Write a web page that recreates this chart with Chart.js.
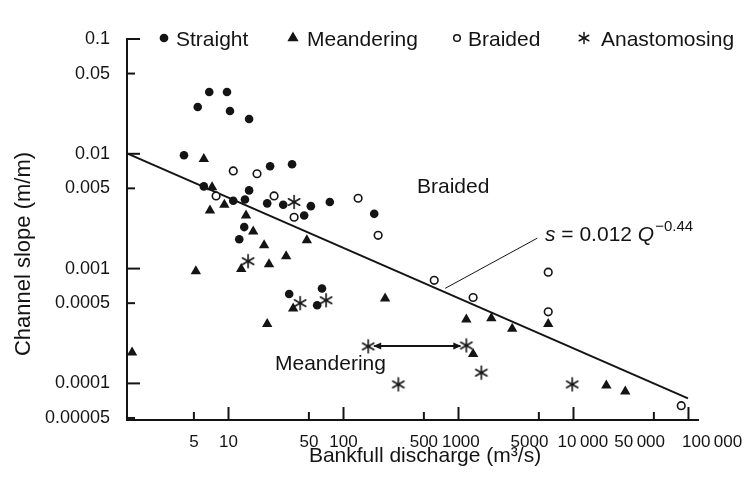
<!DOCTYPE html>
<html>
<head>
<meta charset="utf-8">
<script src="https://cdn.jsdelivr.net/npm/chart.js@4.4.1/dist/chart.umd.min.js"></script>
<style>
    html, body { margin: 0; padding: 0; background: #fff; }
    #wrap { width: 747px; height: 481px; }
</style>
</head>
<body>
<div id="wrap"><canvas id="slopeChart" width="747" height="481"></canvas></div>
<script>
// Bankfull discharge Q (m3/s) and channel slope s (m/m)
const straightQ = [6.8, 9.7, 5.4, 10.3, 15.1, 4.1, 23, 35.7, 6.1, 15.1, 11, 13.9, 21.7, 29.9, 52, 76, 45.5, 185, 13.7, 12.4, 33.7, 65, 59];
const straightS = [0.0345, 0.0345, 0.0256, 0.0236, 0.0201, 0.0097, 0.0078, 0.0081, 0.0052, 0.0048, 0.0039, 0.004, 0.0037, 0.0036, 0.0035, 0.0038, 0.0029, 0.003, 0.0023, 0.0018, 0.0006, 0.00067, 0.00048];

const meanderingQ = [1.45, 5.2, 6.1, 7.2, 6.9, 9.2, 14.2, 16.4, 20.4, 12.9, 22.5, 31.7, 48, 36.5, 21.7, 230, 1170, 1930, 2930, 6030, 1340, 19300, 28200];
const meanderingS = [0.000186, 0.00095, 0.009, 0.0051, 0.0032, 0.0036, 0.0029, 0.0021, 0.0016, 0.00099, 0.00109, 0.00128, 0.00177, 0.00045, 0.00033, 0.00055, 0.00036, 0.00037, 0.0003, 0.00033, 0.00018, 0.000096, 0.000085];

const braidedQ = [7.8, 11, 17.7, 24.9, 37.2, 134, 200, 615, 1340, 6030, 6030, 86500];
const braidedS = [0.0043, 0.0071, 0.0067, 0.0043, 0.0028, 0.0041, 0.00195, 0.00079, 0.00056, 0.00093, 0.00042, 0.000064];

const anastoQ = [37.2, 14.8, 42, 70.6, 164, 1170, 1580, 300, 9750];
const anastoS = [0.0038, 0.00116, 0.0005, 0.00053, 0.00021, 0.000214, 0.000124, 0.000098, 0.000098];

// regression line s = 0.012 Q^-0.44, end points as drawn
const fitQ = [1.31, 99000];
const fitS = [0.0101, 0.000074];
// leader from the equation label to the line
const leaderQ = [766, 4840];
const leaderS = [0.000673, 0.00184];

const xTickValues = [5, 10, 50, 100, 500, 1000, 5000, 10000, 50000, 100000];
// the crowded labels on the right are set off their ticks in the original, padded here with spaces
const xTickLabels = ['5', '10', '50', '100', '500', ' 1000', '5000    ', '    10\u2009000', '50\u2009000      ', '          100\u2009000'];
const yTickValues = [0.1, 0.05, 0.01, 0.005, 0.001, 0.0005, 0.0001, 0.00005];
const yTickLabels = ['0.1', '0.05', '0.01', '0.005', '0.001', '0.0005', '0.0001', '0.00005'];

const ink = '#141414';
const FONT = '"Liberation Sans", Arial, Helvetica, sans-serif';

Chart.defaults.font.family = FONT;
Chart.defaults.color = ink;

// six-armed asterisk used for the anastomosing points
function makeAsterisk(size, arm, width) {
    const c = document.createElement('canvas');
    c.width = size;
    c.height = size;
    const g = c.getContext('2d');
    g.strokeStyle = ink;
    g.lineWidth = width;
    g.lineCap = 'round';
    const m = size / 2;
    [90, 30, 150].forEach(deg => {
        const r = deg * Math.PI / 180;
        g.beginPath();
        g.moveTo(m - Math.cos(r) * arm, m - Math.sin(r) * arm);
        g.lineTo(m + Math.cos(r) * arm, m + Math.sin(r) * arm);
        g.stroke();
    });
    return c;
}
const asterisk = makeAsterisk(16, 6.5, 1.6);
const asteriskSmall = makeAsterisk(14, 5.5, 1.5);

const toPoints = (qs, ss) => qs.map((q, i) => ({ x: q, y: ss[i] }));
const isDecade = v => Math.abs(Math.log10(v) - Math.round(Math.log10(v))) < 1e-6;

function line(ctx, x1, y1, x2, y2) {
    ctx.beginPath();
    ctx.moveTo(x1, y1);
    ctx.lineTo(x2, y2);
    ctx.stroke();
}

function arrowHead(ctx, tipX, tipY, dir) {
    ctx.beginPath();
    ctx.moveTo(tipX, tipY);
    ctx.lineTo(tipX - dir * 8, tipY - 3.5);
    ctx.lineTo(tipX - dir * 8, tipY + 3.5);
    ctx.closePath();
    ctx.fill();
}

// inward ticks, arrow, text labels, legend and axis titles
const extras = {
    id: 'extras',
    afterDraw(chart) {
        const { ctx, scales: { x, y } } = chart;
        ctx.save();
        ctx.strokeStyle = ink;
        ctx.fillStyle = ink;

        // tick marks point into the plot
        ctx.lineWidth = 2;
        xTickValues.forEach(v => {
            const px = x.getPixelForValue(v);
            line(ctx, px, y.bottom, px, y.bottom - (isDecade(v) ? 13 : 8));
        });
        yTickValues.forEach(v => {
            const py = y.getPixelForValue(v);
            line(ctx, x.left, py, x.left + (isDecade(v) ? 13 : 8), py);
        });

        // range arrow between the two anastomosing points
        const a = chart.data.datasets[3].data;
        const ax = x.getPixelForValue(a[4].x), ay = y.getPixelForValue(a[4].y);
        const bx = x.getPixelForValue(a[5].x), by = y.getPixelForValue(a[5].y);
        const my = (ay + by) / 2;
        ctx.lineWidth = 2;
        line(ctx, ax + 6, my, bx - 6, my);
        arrowHead(ctx, ax + 5, my, -1);
        arrowHead(ctx, bx - 5, my, 1);

        // region labels
        ctx.textAlign = 'left';
        ctx.textBaseline = 'alphabetic';
        ctx.font = '21px ' + FONT;
        ctx.fillText('Braided', 417, 193);
        ctx.fillText('Meandering', 275, 370);

        // equation
        let ex = 545;
        const ey = 241;
        ctx.font = 'italic 21px ' + FONT;
        ctx.fillText('s', ex, ey);
        ex += ctx.measureText('s').width;
        ctx.font = '21px ' + FONT;
        ctx.fillText(' = 0.012 ', ex, ey);
        ex += ctx.measureText(' = 0.012 ').width;
        ctx.font = 'italic 21px ' + FONT;
        ctx.fillText('Q', ex, ey);
        ex += ctx.measureText('Q').width + 1;
        ctx.font = '15px ' + FONT;
        ctx.fillText('\u22120.44', ex, ey - 10);

        // legend
        const legend = [
            { label: 'Straight', sx: 164, tx: 176, style: 'circle', r: 3.6, fill: true },
            { label: 'Meandering', sx: 293, tx: 307, style: 'triangle', r: 5, fill: true },
            { label: 'Braided', sx: 457, tx: 468, style: 'circle', r: 3.3, fill: false },
            { label: 'Anastomosing', sx: 584, tx: 601, style: asteriskSmall, r: 6, fill: false }
        ];
        ctx.font = '21px ' + FONT;
        legend.forEach(item => {
            ctx.lineWidth = 1.5;
            ctx.fillStyle = item.fill ? ink : '#fff';
            Chart.helpers.drawPoint(ctx, { pointStyle: item.style, radius: item.r, borderWidth: 1.5, rotation: 0 }, item.sx, 38);
            ctx.fillStyle = ink;
            ctx.fillText(item.label, item.tx, 46);
        });

        // axis titles
        ctx.font = '21px ' + FONT;
        ctx.textAlign = 'center';
        ctx.fillText('Bankfull discharge (m\u00b3/s)', 425, 462);
        ctx.save();
        ctx.translate(30, 254);
        ctx.rotate(-Math.PI / 2);
        ctx.font = '22px ' + FONT;
        ctx.fillText('Channel slope (m/m)', 0, 0);
        ctx.restore();

        ctx.restore();
    }
};

new Chart(document.getElementById('slopeChart').getContext('2d'), {
    type: 'scatter',
    data: {
        datasets: [
            {
                label: 'Straight',
                data: toPoints(straightQ, straightS),
                pointStyle: 'circle',
                pointRadius: 4.3,
                backgroundColor: ink,
                borderColor: ink,
                borderWidth: 0,
                clip: false
            },
            {
                label: 'Meandering',
                data: toPoints(meanderingQ, meanderingS),
                pointStyle: 'triangle',
                pointRadius: 6,
                backgroundColor: ink,
                borderColor: ink,
                borderWidth: 0,
                clip: false
            },
            {
                label: 'Braided',
                data: toPoints(braidedQ, braidedS),
                pointStyle: 'circle',
                pointRadius: 3.8,
                backgroundColor: '#fff',
                borderColor: ink,
                borderWidth: 1.6,
                clip: false
            },
            {
                label: 'Anastomosing',
                data: toPoints(anastoQ, anastoS),
                pointStyle: asterisk,
                pointRadius: 7,
                clip: false
            },
            {
                label: 'Fit',
                data: toPoints(fitQ, fitS),
                showLine: true,
                borderColor: ink,
                borderWidth: 2,
                pointRadius: 0,
                clip: false
            },
            {
                label: 'Leader',
                data: toPoints(leaderQ, leaderS),
                showLine: true,
                borderColor: ink,
                borderWidth: 1,
                pointRadius: 0,
                clip: false
            }
        ]
    },
    options: {
        responsive: false,
        animation: false,
        layout: { padding: { top: 39, right: 49, left: 0, bottom: 0 } },
        scales: {
            x: {
                type: 'logarithmic',
                min: 1.31,
                max: 121000,
                bounds: 'data',
                grid: { display: false },
                border: { display: true, color: ink, width: 2 },
                afterBuildTicks: s => { s.ticks = xTickValues.map(v => ({ value: v })); },
                afterFit: s => { s.height = 61; },
                ticks: {
                    autoSkip: false,
                    maxRotation: 0,
                    padding: 4,
                    font: { size: 17 },
                    callback: (v) => xTickLabels[xTickValues.indexOf(v)] ?? ''
                }
            },
            y: {
                type: 'logarithmic',
                min: 0.000048,
                max: 0.1,
                bounds: 'data',
                grid: { display: false },
                border: { display: true, color: ink, width: 2 },
                afterBuildTicks: s => { s.ticks = yTickValues.map(v => ({ value: v })); },
                afterFit: s => { s.width = 127; },
                ticks: {
                    autoSkip: false,
                    padding: 9,
                    font: { size: 18 },
                    callback: (v) => yTickLabels[yTickValues.indexOf(v)] ?? ''
                }
            }
        },
        plugins: {
            legend: { display: false },
            tooltip: { enabled: false }
        }
    },
    plugins: [extras]
});
</script>
</body>
</html>
